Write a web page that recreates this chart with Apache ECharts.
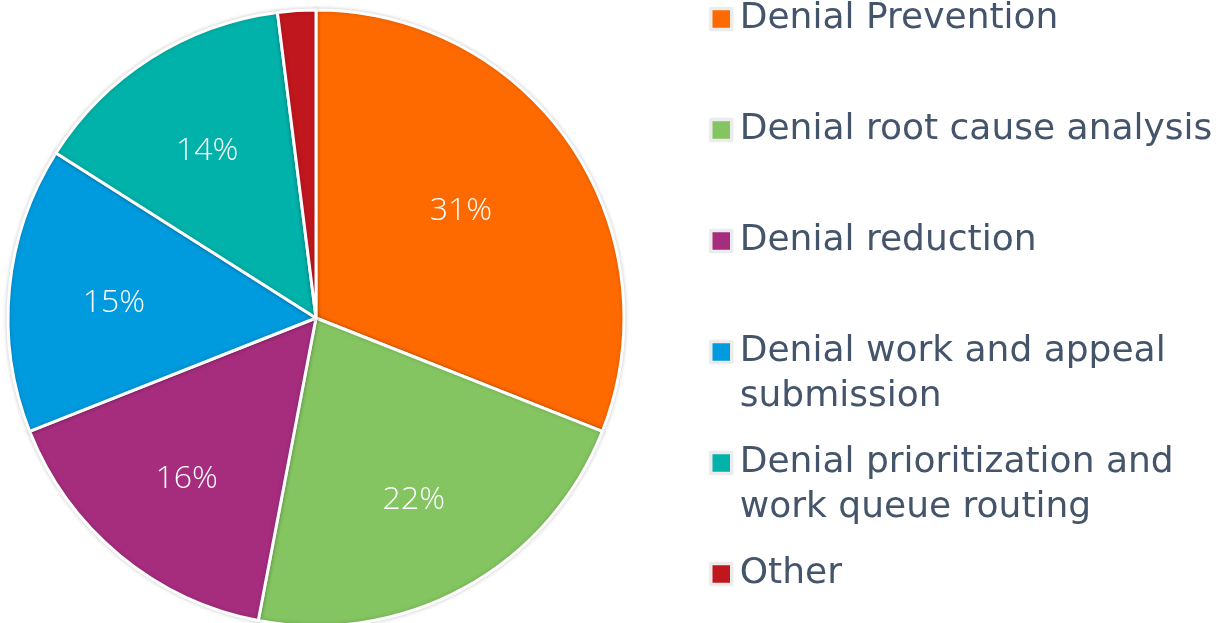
<!DOCTYPE html>
<html>
<head>
<meta charset="utf-8">
<script src="https://cdn.jsdelivr.net/npm/echarts@6/dist/echarts.min.js"></script>
<style>
html,body{margin:0;padding:0;background:#fff;}
#chart{width:1227px;height:623px;}
</style>
</head>
<body>
<div id="chart"></div>
<script>
const categories = [
  'Denial Prevention',
  'Denial root cause analysis',
  'Denial reduction',
  'Denial work and appeal\nsubmission',
  'Denial prioritization and\nwork queue routing',
  'Other'
];
const values = [31, 22, 16, 15, 14, 2];
const colors = ['#FF6A00', '#84C561', '#A62C7E', '#009ADE', '#00B2A9', '#C0161E'];

const FONT = 'DejaVu Sans';
const LABEL_FONT = 'Open Sans';
const TEXT_COLOR = '#44546A';
const data = categories.map((c, i) => ({ name: c, value: values[i], itemStyle: { color: colors[i] } }));
const labelData = categories.map((c, i) => ({
  name: c,
  value: values[i],
  label: i === 0 ? { offset: [-23, 7] } : undefined
}));

const legendFirstLineY = [19, 130, 241, 352, 463, 574];
const LH = 45;
const legends = categories.map((c, i) => {
  const lines = c.split('\n').length;
  const shown = lines > 1 ? '\n' + c : c;
  const boxH = lines > 1 ? LH * (2 * lines - 1) : LH;
  return {
    data: [c],
    orient: 'vertical',
    left: 709,
    top: legendFirstLineY[i] - boxH / 2,
    padding: 0,
    itemWidth: 21,
    itemHeight: 21,
    icon: 'rect',
    selectedMode: false,
    formatter: () => shown,
    itemStyle: { borderColor: '#ececec', borderWidth: 3.5 },
    textStyle: {
      fontFamily: FONT,
      fontSize: 36,
      color: TEXT_COLOR,
      lineHeight: LH,
      padding: [0, 0, 0, 3]
    }
  };
});

const chart = echarts.init(document.getElementById('chart'), null, { renderer: 'canvas' });
chart.setOption({
  animation: false,
  backgroundColor: '#ffffff',
  legend: legends,
  series: [
    {
      type: 'pie',
      center: [316, 318],
      radius: [0, 308],
      startAngle: 90,
      clockwise: true,
      data: data,
      label: { show: false },
      labelLine: { show: false },
      emphasis: { disabled: true },
      itemStyle: {
        borderColor: '#ffffff',
        borderWidth: 3,
        shadowBlur: 4,
        shadowColor: 'rgba(0,0,0,0.18)'
      }
    },
    {
      type: 'pie',
      center: [316, 318],
      radius: [92, 308],
      startAngle: 90,
      clockwise: true,
      silent: true,
      data: labelData,
      itemStyle: { color: 'rgba(0,0,0,0)' },
      emphasis: { disabled: true },
      labelLine: { show: false },
      label: {
        show: true,
        position: 'inside',
        formatter: p => p.value >= 5 ? p.value + '%' : '',
        color: '#ffffff',
        fontFamily: LABEL_FONT,
        fontWeight: 300,
        fontSize: 32,
        offset: [0, 4]
      }
    }
  ]
});
</script>
</body>
</html>
